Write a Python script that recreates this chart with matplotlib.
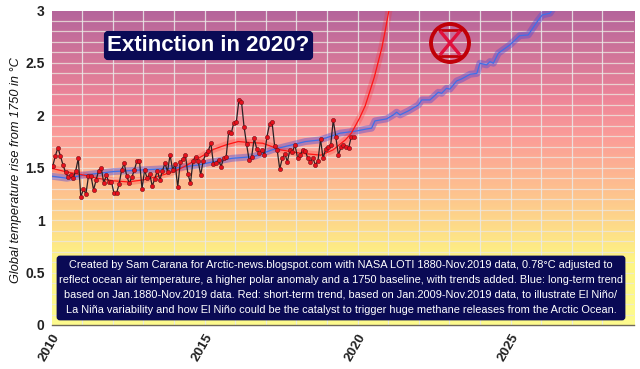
import numpy as np
import matplotlib
matplotlib.use('Agg')
import matplotlib.pyplot as plt
from matplotlib.colors import LinearSegmentedColormap
from matplotlib.patches import Circle, FancyBboxPatch
from matplotlib.transforms import ScaledTranslation

# monthly anomaly, Jan 2010 - Nov 2019
monthly = [1.517, 1.613, 1.690, 1.613, 1.527, 1.457, 1.409, 1.431, 1.400, 1.470, 1.590, 1.218,
           1.295, 1.250, 1.420, 1.420, 1.288, 1.384, 1.473, 1.500, 1.352, 1.428, 1.361, 1.368,
           1.257, 1.257, 1.342, 1.479, 1.543, 1.420, 1.352, 1.409, 1.479, 1.565, 1.568, 1.298,
           1.479, 1.400, 1.441, 1.326, 1.393, 1.473, 1.384, 1.470, 1.543, 1.463, 1.622, 1.479,
           1.536, 1.314, 1.552, 1.581, 1.622, 1.441, 1.352, 1.568, 1.606, 1.568, 1.431, 1.568,
           1.632, 1.664, 1.734, 1.536, 1.549, 1.574, 1.511, 1.590, 1.606, 1.845, 1.829, 1.931,
           1.940, 2.147, 2.131, 1.893, 1.724, 1.574, 1.606, 1.781, 1.676, 1.638, 1.670, 1.622,
           1.797, 1.915, 1.934, 1.708, 1.670, 1.489, 1.590, 1.632, 1.558, 1.670, 1.654, 1.718,
           1.590, 1.622, 1.670, 1.664, 1.590, 1.558, 1.590, 1.527, 1.568, 1.772, 1.590, 1.676,
           1.695, 1.718, 1.956, 1.791, 1.622, 1.695, 1.718, 1.702, 1.686, 1.791, 1.791]
months = 2010 + (np.arange(len(monthly)) + 0.5) / 12

red_x = [2010.0, 2010.5, 2011.05, 2011.5, 2012.0, 2012.5, 2013.0, 2013.5, 2014.0, 2014.4, 2014.8,
         2015.3, 2015.7, 2016.1, 2016.5, 2016.9, 2017.5, 2018.1, 2018.8, 2019.2, 2019.6, 2019.8,
         2020.07, 2020.25, 2020.4, 2020.55, 2020.68, 2020.8, 2020.9, 2021.04]
red_y = [1.495, 1.46, 1.43, 1.40, 1.376, 1.365, 1.384, 1.42, 1.463, 1.52, 1.59,
         1.676, 1.718, 1.75, 1.74, 1.734, 1.67, 1.64, 1.62, 1.67, 1.765, 1.83,
         1.975, 2.09, 2.226, 2.365, 2.513, 2.65, 2.80, 3.02]

blue_x = [2010.0, 2010.5, 2011.05, 2012.0, 2013.0, 2014.0, 2014.8, 2015.3, 2015.9, 2016.6, 2017.2,
          2017.6, 2018.3, 2018.77, 2019.43, 2019.97, 2020.3, 2020.46, 2020.57, 2020.95, 2021.17,
          2021.28, 2021.39, 2021.66, 2021.99, 2022.1, 2022.37, 2022.64, 2022.75, 2022.91, 2023.02,
          2023.24, 2023.4, 2023.68, 2023.9, 2024.0, 2024.22, 2024.33, 2024.44, 2024.6, 2024.98,
          2025.3, 2025.58, 2025.91, 2026.04, 2026.29, 2026.39]
blue_y = [1.42, 1.40, 1.43, 1.463, 1.48, 1.495, 1.527, 1.558, 1.59, 1.606, 1.67,
          1.70, 1.75, 1.765, 1.83, 1.851, 1.870, 1.877, 1.947, 1.966, 2.004,
          2.03, 2.004, 2.042, 2.099, 2.147, 2.147, 2.22, 2.21, 2.258, 2.25,
          2.328, 2.347, 2.392, 2.40, 2.497, 2.481, 2.513, 2.497, 2.592, 2.672,
          2.76, 2.767, 2.91, 2.958, 2.974, 3.02]

x_ticks = [2010, 2015, 2020, 2025]
y_ticks = [0, 0.5, 1, 1.5, 2, 2.5, 3]
y_labels = ['0', '0.5', '1', '1.5', '2', '2.5', '3']

title = 'Extinction in 2020?'
note = ('Created by Sam Carana for Arctic-news.blogspot.com with NASA LOTI 1880-Nov.2019 data, 0.78°C adjusted to\n'
        'reflect ocean air temperature, a higher polar anomaly and a 1750 baseline, with trends added. Blue: long-term trend\n'
        'based on Jan.1880-Nov.2019 data. Red: short-term trend, based on Jan.2009-Nov.2019 data, to illustrate El Niño/\n'
        'La Niña variability and how El Niño could be the catalyst to trigger huge methane releases from the Arctic Ocean.')

plt.rcParams['font.family'] = ['Liberation Sans', 'DejaVu Sans']
W, H = 640, 369
fig = plt.figure(figsize=(W / 100, H / 100), dpi=100)
ax = fig.add_axes([51.5 / W, 1 - 325 / H, (634 - 51.5) / W, (325 - 10.5) / H])
x_end = 2010 + (634 - 51.5) / 30.6

# background gradient, top to bottom
cmap = LinearSegmentedColormap.from_list('bg', [(0, '#fdfb8e'), (0.2, '#fdf583'), (0.43, '#fec08f'),
                                                (0.6, '#fb9c98'), (0.72, '#ee8598'), (1, '#b4649b')])
grad = np.linspace(0, 1, 256).reshape(-1, 1)
ax.imshow(grad, origin='lower', aspect='auto', extent=[2010, x_end, 0, 3], cmap=cmap, zorder=0)

for v in np.arange(0.1, 3, 0.1):
    ax.axhline(v, color='#ece6de', lw=0.9, alpha=0.8, zorder=1)
for v in range(2011, 2029):
    ax.axvline(v, color='#eaeaea', lw=0.9, alpha=0.85, zorder=1)

ax.plot(blue_x, blue_y, color='#5a4fd0', lw=5, alpha=0.45, zorder=2)
ax.plot(red_x, red_y, color='#ff2a2a', lw=5, alpha=0.25, zorder=2)
ax.plot(blue_x, blue_y, color='#3f6fe8', lw=0.9, zorder=3)
ax.plot(red_x, red_y, color='#ff1515', lw=0.9, zorder=3)
ax.plot(months, monthly, color='#2a2024', lw=0.9, zorder=4)
ax.plot(months, monthly, ls='none', marker='o', ms=3, mfc='#e8101c', mec='#701018', mew=0.4, zorder=5)

ax.set_xlim(2010, x_end)
ax.set_ylim(0, 3)
ax.set_xticks(x_ticks)
ax.set_xticklabels([str(v) for v in x_ticks], rotation=60, ha='right', rotation_mode='anchor',
                   fontsize=9.6, fontweight='bold', color='#222222')
shift = ScaledTranslation(5 / 100, 0, fig.dpi_scale_trans)
for lab in ax.get_xticklabels():
    lab.set_transform(lab.get_transform() + shift)
ax.set_yticks(y_ticks)
ax.set_yticklabels(y_labels, fontsize=10, fontweight='bold', color='#222222')
ax.tick_params(length=0, pad=5)
for side in ['top', 'right', 'left']:
    ax.spines[side].set_visible(False)
ax.spines['bottom'].set_color('#70685a')
ax.spines['bottom'].set_linewidth(1.0)

fig.text(16 / W, 1 - 170 / H, 'Global temperature rise from 1750 in °C', rotation=90, ha='center', va='center',
         fontsize=9.2, style='italic', color='#111111')

# overlay in pixel coordinates for boxes and the symbol
ov = fig.add_axes([0, 0, 1, 1])
ov.set_xlim(0, W)
ov.set_ylim(H, 0)
ov.axis('off')
ov.patch.set_alpha(0)

navy = '#0a0a55'
ov.add_patch(FancyBboxPatch((106, 33), 205, 25, boxstyle='round,pad=0,rounding_size=2', fc=navy, ec=navy, lw=3))
ov.text(208.5, 45.5, title, color='white', fontsize=16, fontweight='bold', ha='center', va='center')

ov.add_patch(FancyBboxPatch((58, 257), 566, 62, boxstyle='round,pad=0,rounding_size=2', fc=navy, ec=navy, lw=2))
ov.text(341, 287.5, note, color='white', fontsize=7.9, ha='center', va='center', linespacing=1.6)

# extinction symbol
cx, cy = 450, 43
dark = '#c00008'
ov.add_patch(Circle((cx, cy), 19, fc='none', ec=dark, lw=2.8))
ov.plot([cx - 12, cx + 12], [cy - 13, cy - 13], color=dark, lw=2.0, solid_capstyle='butt')
ov.plot([cx - 12, cx + 12], [cy + 13, cy + 13], color=dark, lw=2.0, solid_capstyle='butt')
ov.plot([cx - 10, cx + 10], [cy - 12, cy + 12], color='#e0103c', lw=2.4, solid_capstyle='butt')
ov.plot([cx + 10, cx - 10], [cy - 12, cy + 12], color='#e0103c', lw=2.4, solid_capstyle='butt')

fig.savefig('out.png', dpi=100, facecolor='white')
